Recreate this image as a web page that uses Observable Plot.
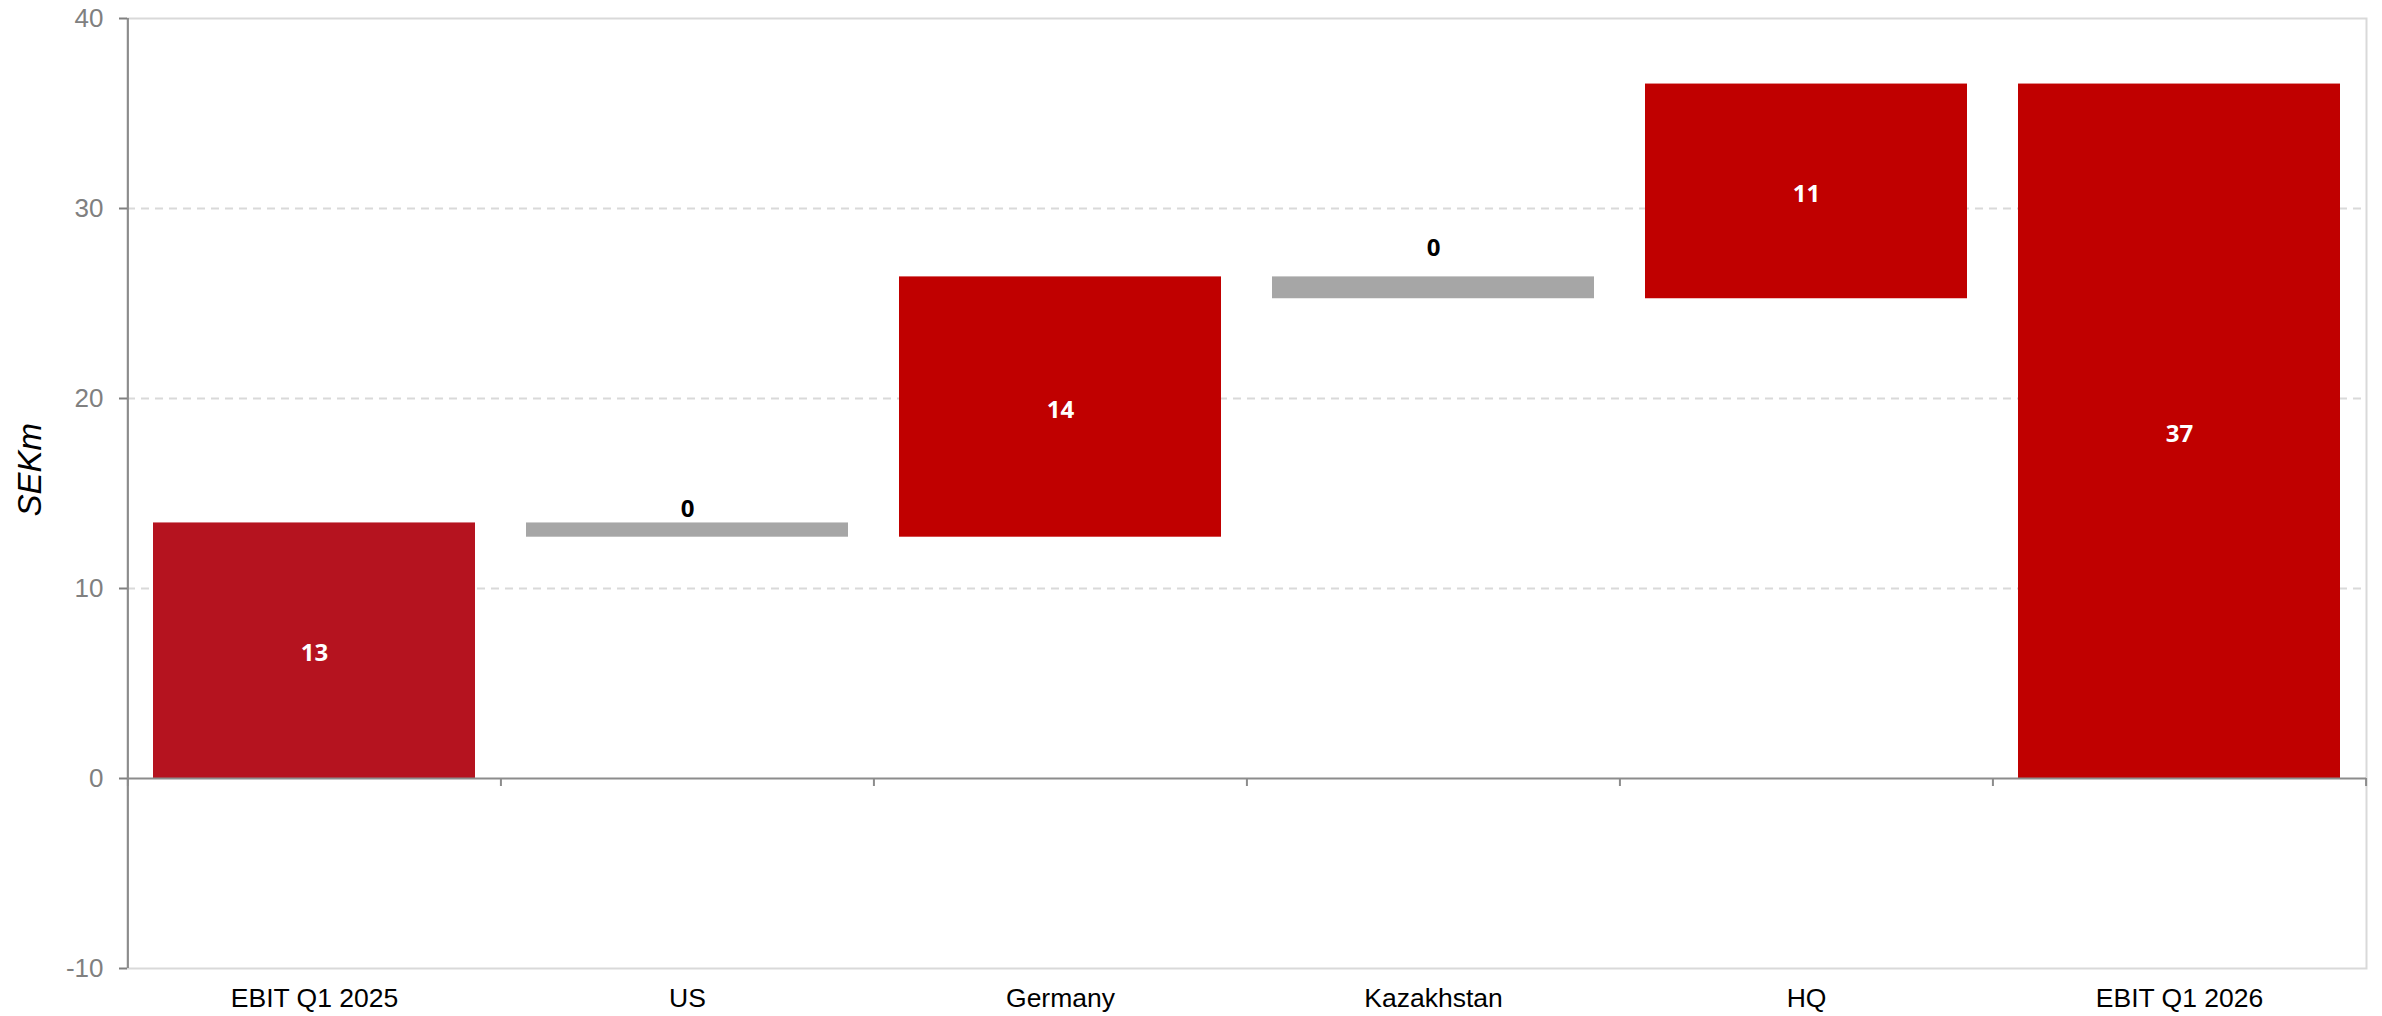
<!DOCTYPE html>
<html>
<head>
<meta charset="utf-8">
<script src="https://cdn.jsdelivr.net/npm/d3@7"></script>
<script src="https://cdn.jsdelivr.net/npm/@observablehq/plot@0.6"></script>
<style>
  html, body { margin: 0; padding: 0; background: #ffffff; overflow: hidden; }
  #chart svg { display: block; }
</style>
</head>
<body>
<div id="chart"></div>
<script>
// ---- Data ----
const categories = ["EBIT Q1 2025", "US", "Germany", "Kazakhstan", "HQ", "EBIT Q1 2026"];
const barStart   = [0, 13.45, 12.7, 26.4, 25.25, 0];
const barEnd     = [13.45, 12.7, 26.4, 25.25, 36.55, 36.55];
const valueLabels = ["13", "0", "14", "0", "11", "37"];
const barKinds   = ["start", "decrease", "increase", "decrease", "increase", "end"];
const yTicks     = [-10, 0, 10, 20, 30, 40];
const gridValues = [10, 20, 30];
const yAxisTitle = "SEKm";

const rows = categories.map((c, i) => ({
  cat: c, start: barStart[i], end: barEnd[i], label: valueLabels[i], kind: barKinds[i],
  top: Math.max(barStart[i], barEnd[i]), mid: (barStart[i] + barEnd[i]) / 2
}));

// ---- Layout ----
const W = 2382, H = 1016;
const mL = 127, mR = 16, mT = 18, mB = 48;
const step = (W - mL - mR) / categories.length;

const kindColor = {start: "#b5131f", increase: "#c00000", end: "#c00000", decrease: "#a6a6a6"};
const axisGray = "#8c8c8c";
const lightGray = "#d9d9d9";
const labelFont = "'Open Sans', 'Noto Sans', sans-serif";

const chart = Plot.plot({
  width: W,
  height: H,
  marginLeft: mL,
  marginRight: mR,
  marginTop: mT,
  marginBottom: mB,
  style: {fontFamily: "'Liberation Sans', Arial, sans-serif", fontSize: "26px", background: "#ffffff", overflow: "visible"},
  x: {type: "band", domain: categories, paddingInner: 0.137, paddingOuter: 0.0685, label: null},
  y: {domain: [-10, 40], label: null},
  marks: [
    Plot.frame({stroke: lightGray, strokeWidth: 2}),
    Plot.ruleY(gridValues, {stroke: lightGray, strokeWidth: 2, strokeDasharray: "8,6"}),
    Plot.barY(rows, {x: "cat", y1: "start", y2: "end", fill: d => kindColor[d.kind]}),
    // zero line
    Plot.ruleY([0], {stroke: axisGray, strokeWidth: 2}),
    // left axis line
    Plot.ruleX([categories[0]], {x: d => d, y1: -10, y2: 40, dx: -step / 2, stroke: axisGray, strokeWidth: 2}),
    // category boundary ticks on the zero line
    Plot.ruleX(categories, {x: d => d, y1: 0, y2: 0, insetBottom: -8, dx: -step / 2, stroke: axisGray, strokeWidth: 2}),
    Plot.ruleX([categories[categories.length - 1]], {x: d => d, y1: 0, y2: 0, insetBottom: -8, dx: step / 2, stroke: axisGray, strokeWidth: 2}),
    Plot.axisY({ticks: yTicks, tickFormat: d => String(d), tickSize: 8, tickPadding: 16, color: "#808080", fontSize: 26, label: null, strokeWidth: 2}),
    Plot.axisX({tickSize: 0, tickPadding: 20, color: "#000000", fontSize: 26.5, label: null}),
    // value labels inside red bars
    Plot.text(rows.filter(d => d.kind !== "decrease"), {
      x: "cat", y: "mid", text: "label", fill: "#ffffff", fontWeight: "bold", fontSize: 24, fontFamily: labelFont, dy: 3
    }),
    // value labels above grey bars
    Plot.text(rows.filter(d => d.cat === "US"), {
      x: "cat", y: "top", text: "label", fill: "#000000", fontWeight: "bold", fontSize: 24, fontFamily: labelFont, dy: -14
    }),
    Plot.text(rows.filter(d => d.cat === "Kazakhstan"), {
      x: "cat", y: "top", text: "label", fill: "#000000", fontWeight: "bold", fontSize: 24, fontFamily: labelFont, dy: -29
    }),
    // y-axis title
    Plot.text([yAxisTitle], {
      frameAnchor: "left", text: d => d, rotate: -90, dx: -97, dy: 23,
      fontStyle: "italic", fontSize: 33, fill: "#000000"
    })
  ]
});

document.getElementById("chart").appendChild(chart);
</script>
</body>
</html>
